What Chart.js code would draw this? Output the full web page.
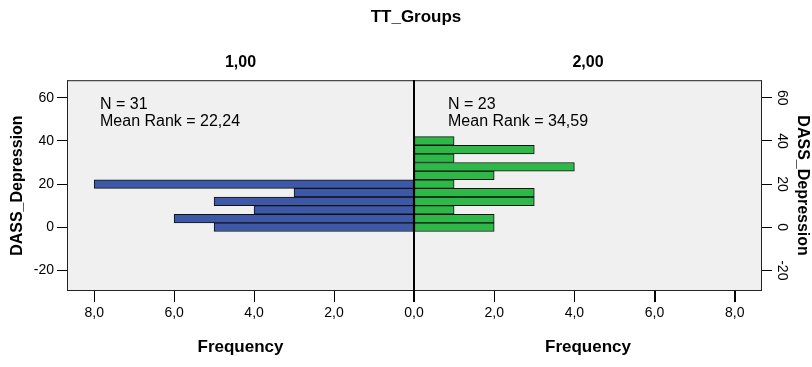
<!DOCTYPE html>
<html>
<head>
<meta charset="utf-8">
<script src="https://cdn.jsdelivr.net/npm/chart.js@4.4.1/dist/chart.umd.min.js"></script>
<style>
  body { margin: 0; background: #fff; }
  #wrap { position: relative; width: 812px; height: 367px; }
  #leftChart { position: absolute; left: 0; top: 0; }
  #rightChart { position: absolute; left: 414px; top: 0; }
  #groupTitle {
    position: absolute; left: 316px; top: 7px; width: 200px; text-align: center;
    font: bold 17px "Liberation Sans", Arial, sans-serif; color: #000;
  }
</style>
</head>
<body>
<div id="wrap">
  <canvas id="leftChart" width="414" height="367"></canvas>
  <canvas id="rightChart" width="398" height="367"></canvas>
  <div id="groupTitle">TT_Groups</div>
</div>
<script>
// Histogram data (bin centre -> frequency)
const group1Bins = [0, 4, 8, 12, 16, 20];
const group1Counts = [5, 6, 4, 5, 3, 8];
const group2Bins = [0, 4, 8, 12, 16, 20, 24, 28, 32, 36, 40];
const group2Counts = [2, 2, 1, 3, 3, 1, 2, 4, 1, 3, 1];

const groupLabels = ['1,00', '2,00'];
const group1Stats = ['N = 31', 'Mean Rank = 22,24'];
const group2Stats = ['N = 23', 'Mean Rank = 34,59'];

const yTicks = [-20, 0, 20, 40, 60];
const freqTicks = [0, 2, 4, 6, 8];

const fontFamily = '"Liberation Sans", Arial, sans-serif';

// Grey panel, frame, x tick marks and the N / Mean Rank text
const panelPlugin = {
  id: 'panel',
  beforeDraw(chart) {
    const a = chart.chartArea;
    const ctx = chart.ctx;
    ctx.save();
    ctx.fillStyle = '#f0f0f0';
    ctx.fillRect(a.left, a.top, a.right - a.left, a.bottom - a.top);
    ctx.restore();
  },
  afterDraw(chart, args, opts) {
    const a = chart.chartArea;
    const ctx = chart.ctx;
    ctx.save();
    ctx.fillStyle = '#222';
    // frame
    ctx.fillRect(a.left, a.top, a.right - a.left, 1);
    ctx.fillRect(a.left, a.bottom - 1, a.right - a.left, 1);
    ctx.fillRect(a.left, a.top, 1, a.bottom - a.top);
    ctx.fillRect(a.right - 1, a.top, 1, a.bottom - a.top);

    // tick marks under the frequency axis
    ctx.fillStyle = '#000';
    const xs = chart.scales.x;
    xs.ticks.forEach(t => {
      const px = Math.round(xs.getPixelForValue(t.value));
      ctx.fillRect(px - (px >= a.right ? 1 : 0), a.bottom, 1, 11);
    });

    // centre line is heavier (each half-canvas draws its side)
    const cx = opts.edge === 'right' ? a.right - 1 : a.left;
    ctx.fillRect(cx, a.top, 1, a.bottom - a.top + 11);

    ctx.font = '16px ' + fontFamily;
    ctx.textBaseline = 'alphabetic';
    ctx.textAlign = 'left';
    opts.lines.forEach((t, i) => {
      ctx.fillText(t, a.left + opts.dx, a.top + 29 + i * 17);
    });
    ctx.restore();
  }
};

function fmtFreq(v) {
  return v.toFixed(1).replace('.', ',');
}

function makeChart(id, bins, counts, color, side) {
  const isLeft = side === 'left';
  return new Chart(document.getElementById(id), {
    type: 'bar',
    data: {
      datasets: [{
        data: bins.map((b, i) => ({ x: counts[i], y: b })),
        backgroundColor: color,
        borderColor: '#111',
        borderWidth: 1,
        borderSkipped: false,
        barPercentage: 1,
        categoryPercentage: 1
      }]
    },
    options: {
      indexAxis: 'y',
      responsive: false,
      animation: false,
      devicePixelRatio: 1,
      layout: { padding: 0 },
      plugins: {
        legend: { display: false },
        tooltip: { enabled: false },
        title: {
          display: true,
          text: isLeft ? groupLabels[0] : groupLabels[1],
          fullSize: false,
          color: '#000',
          font: { family: fontFamily, size: 16, weight: 'bold' },
          padding: { top: 53, bottom: 8 }
        },
        panel: {
          edge: isLeft ? 'right' : 'left',
          lines: isLeft ? group1Stats : group2Stats,
          dx: isLeft ? 33 : 34
        }
      },
      scales: {
        x: {
          type: 'linear',
          reverse: isLeft,
          offset: false,
          min: 0,
          max: 8.68,
          afterBuildTicks: s => { s.ticks = freqTicks.map(v => ({ value: v })); },
          afterFit: s => { s.height = 76; s.paddingLeft = 0; s.paddingRight = 0; },
          grid: {
            display: true, offset: false, drawOnChartArea: false, drawTicks: true,
            tickLength: 11, color: '#000'
          },
          border: { display: false },
          ticks: {
            color: '#000',
            font: { family: fontFamily, size: 14 },
            padding: 3,
            maxRotation: 0,
            callback: v => fmtFreq(v)
          },
          title: {
            display: true,
            text: 'Frequency',
            color: '#000',
            font: { family: fontFamily, size: 17, weight: 'bold' },
            padding: { top: 0, bottom: 9 }
          }
        },
        y: {
          type: 'linear',
          position: isLeft ? 'left' : 'right',
          offset: false,
          min: -29.6,
          max: 68.2,
          afterBuildTicks: s => { s.ticks = yTicks.map(v => ({ value: v })); },
          afterFit: s => { s.width = isLeft ? 67 : 50; },
          grid: {
            display: true, offset: false, drawOnChartArea: false, drawTicks: true,
            tickLength: 10, color: '#000'
          },
          border: { display: false },
          ticks: isLeft ? {
            color: '#000',
            font: { family: fontFamily, size: 14 },
            padding: 3
          } : {
            color: '#000',
            font: { family: fontFamily, size: 14 },
            padding: 0,
            minRotation: -90,
            maxRotation: -90,
            crossAlign: 'center'
          },
          title: {
            display: true,
            text: 'DASS_Depression',
            color: '#000',
            font: { family: fontFamily, size: 16, weight: 'bold' },
            padding: isLeft ? { top: 8, bottom: 0 } : { top: 0, bottom: 0 }
          }
        }
      }
    },
    plugins: [panelPlugin]
  });
}

const leftChart = makeChart('leftChart', group1Bins, group1Counts, '#3e58a8', 'left');
const rightChart = makeChart('rightChart', group2Bins, group2Counts, '#2db848', 'right');
</script>
</body>
</html>
